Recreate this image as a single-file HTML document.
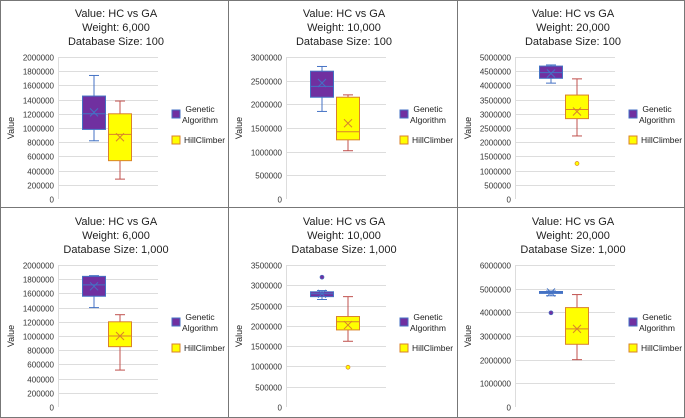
<!DOCTYPE html>
<html><head><meta charset="utf-8">
<style>
html,body{margin:0;padding:0;background:#fff;}
svg{display:block;font-family:"Liberation Sans",sans-serif;}
</style></head>
<body>
<svg id="fig" width="685" height="418" viewBox="0 0 685 418"></svg>
<script>
// Panel settings
const panelWeights = ["6,000","10,000","20,000","6,000","10,000","20,000"];
const panelDbSizes = ["100","100","100","1,000","1,000","1,000"];
const panelAxisMax = [2000000,3000000,5000000,2000000,3500000,6000000];
const panelAxisStep = [200000,500000,500000,200000,500000,1000000];
// Genetic Algorithm: [min, q1, median, q3, max, mean]
const gaStats = [
  [820000,980000,1200000,1450000,1740000,1220000],
  [1850000,2150000,2380000,2700000,2800000,2450000],
  [4080000,4250000,4450000,4680000,4720000,4420000],
  [1400000,1560000,1720000,1840000,1850000,1700000],
  [2650000,2720000,2790000,2840000,2870000,2790000],
  [4700000,4800000,4840000,4880000,4900000,4840000]
];
const gaOutliers = [[],[],[],[],[3200000],[3980000]];
// HillClimber
const hcStats = [
  [280000,540000,910000,1200000,1380000,870000],
  [1020000,1250000,1420000,2150000,2200000,1600000],
  [2220000,2830000,3150000,3660000,4230000,3080000],
  [520000,850000,1000000,1200000,1300000,1000000],
  [1620000,1900000,2100000,2230000,2720000,2020000],
  [2000000,2650000,3300000,4200000,4750000,3300000]
];
const hcOutliers = [[],[],[1250000],[],[980000],[]];

const NS="http://www.w3.org/2000/svg";
const svg=document.getElementById('fig');
function mk(tag,attrs,parent){const e=document.createElementNS(NS,tag);for(const k in attrs)e.setAttribute(k,attrs[k]);(parent||svg).appendChild(e);return e;}
function txt(s,attrs,parent){const e=mk('text',attrs,parent);e.textContent=s;return e;}

const colX=[0,228,457], rowY=[0,207];
const frame=mk('rect',{x:0.5,y:0.5,width:684,height:417,fill:'none',stroke:'#777','stroke-width':1});


[228,457].forEach(x=>{const l=mk('line',{x1:x+0.5,y1:0,x2:x+0.5,y2:418,stroke:'#777'});

});
const hl=mk('line',{x1:0,y1:207.5,x2:685,y2:207.5,stroke:'#777'});



function drawBox(g,stats,outs,cx,yS,fill,stroke,wstroke,name){
  const [mn,q1,md,q3,mx,mean]=stats;const w=23;const bx=cx-w/2;
  const bg=mk('g',{},g);
  
  
  mk('line',{x1:cx,y1:yS(mx),x2:cx,y2:yS(q3),stroke:wstroke,'stroke-width':1},bg);
  mk('line',{x1:cx,y1:yS(q1),x2:cx,y2:yS(mn),stroke:wstroke,'stroke-width':1},bg);
  mk('line',{x1:cx-5,y1:yS(mx),x2:cx+5,y2:yS(mx),stroke:wstroke},bg);
  mk('line',{x1:cx-5,y1:yS(mn),x2:cx+5,y2:yS(mn),stroke:wstroke},bg);
  mk('rect',{x:bx,y:yS(q3),width:w,height:Math.max(1,yS(q1)-yS(q3)),fill:fill,stroke:stroke,'stroke-width':1},bg);
  mk('line',{x1:bx,y1:yS(md),x2:bx+w,y2:yS(md),stroke:stroke},bg);
  const my=yS(mean);
  mk('path',{d:`M${cx-4},${my-4}L${cx+4},${my+4}M${cx+4},${my-4}L${cx-4},${my+4}`,stroke:stroke,'stroke-width':1},bg);
  outs.forEach(o=>{const c=mk('circle',{cx:cx,cy:yS(o),r:2,fill:fill,stroke:stroke,'stroke-width':0.7},bg);
    
    });
}

for(let i=0;i<6;i++){
  const ox=colX[i%3], oy=rowY[Math.floor(i/3)]+(i>=3?1:0);
  const g=mk('g',{transform:`translate(${ox},${oy})`});
  
  
  const t=mk('g',{},g);
  
  
  txt('Value: HC vs GA',{x:116,y:17,'text-anchor':'middle','font-size':11,fill:'#222'},t);
  txt('Weight: '+panelWeights[i],{x:116,y:31,'text-anchor':'middle','font-size':11,fill:'#222'},t);
  txt('Database Size: '+panelDbSizes[i],{x:116,y:45,'text-anchor':'middle','font-size':11,fill:'#222'},t);
  const pl=58,pw=100,pt=57,pb=199;
  const max=panelAxisMax[i], step=panelAxisStep[i];
  const yS=v=>pb-(v/max)*(pb-pt);
  const ax=mk('g',{},g);
  
  
  for(let v=0;v<=max+1;v+=step){
    const y=Math.round(yS(v))+0.5;
    if(v>0) mk('line',{x1:pl,y1:y,x2:pl+pw,y2:y,stroke:'#ddd','stroke-width':1},ax);
    txt(String(v),{x:pl-4,y:y+3,'text-anchor':'end','font-size':8,fill:'#333'},ax);
  }
  mk('line',{x1:pl+0.5,y1:pt,x2:pl+0.5,y2:pb,stroke:'#ddd'},ax);
  const yt=txt('Value',{x:0,y:0,'text-anchor':'middle','font-size':9,fill:'#222',transform:`translate(14,${(pt+pb)/2}) rotate(-90)`},g);
  
  
  drawBox(g,gaStats[i],gaOutliers[i],pl+36,yS,'#7030a0','#4472c4','#4472c4','box-genetic-algorithm');
  drawBox(g,hcStats[i],hcOutliers[i],pl+62,yS,'#ffff00','#d9822b','#c0504d','box-hillclimber');
  const lg=mk('g',{},g);
  
  
  const l1=mk('g',{},lg);
  
  
  mk('rect',{x:172,y:110,width:8,height:8,fill:'#7030a0',stroke:'#4472c4'},l1);
  txt('Genetic',{x:200,y:112,'text-anchor':'middle','font-size':8.5,fill:'#222'},l1);
  txt('Algorithm',{x:200,y:123,'text-anchor':'middle','font-size':8.5,fill:'#222'},l1);
  const l2=mk('g',{},lg);
  
  
  mk('rect',{x:172,y:136,width:8,height:8,fill:'#ffff00',stroke:'#d9822b'},l2);
  txt('HillClimber',{x:184,y:143,'font-size':8.5,fill:'#222'},l2);
}
</script>
</body></html>
